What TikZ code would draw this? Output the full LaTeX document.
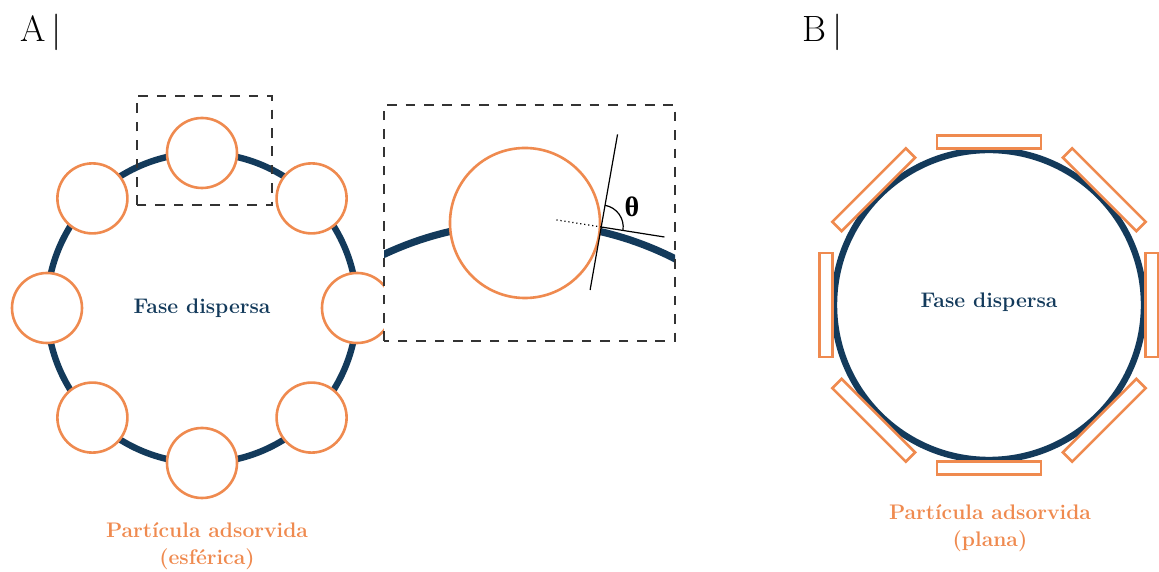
\documentclass[tikz,border=0pt]{standalone}
\usepackage{fontspec}
\usepackage{tikz}
\usetikzlibrary{calc}
\newfontfamily\griegafont{Liberation Serif}
\definecolor{faseAzul}{HTML}{133A5B}
\definecolor{partNaranja}{HTML}{EF8A4F}
\tikzset{
  anillo/.style={draw=faseAzul, line width=0.16cm},
  particula/.style={circle, draw=partNaranja, fill=white, line width=0.065cm, minimum size=1.75cm, inner sep=0pt},
  placa/.style={rectangle, draw=partNaranja, fill=white, line width=0.065cm, minimum width=2.6cm, minimum height=0.33cm, inner sep=0pt},
  recuadro/.style={draw=black!80, line width=0.035cm, dash pattern=on 0.24cm off 0.22cm},
  etiqueta/.style={font=\fontsize{15}{19}\selectfont\bfseries, align=center},
  panel/.style={font=\fontsize{26}{30}\selectfont, anchor=base west, inner sep=0pt},
  fina/.style={draw=black, line width=0.03cm},
}

\begin{document}
\begin{tikzpicture}[x=0.025cm, y=0.025cm]
\useasboundingbox (0,0) rectangle (1159,572);

% panel A
\node[panel] (letA) at (20,530) {A\,|};
\coordinate (cA) at (202,264);
\draw[anillo] (cA) circle[radius=155];
\node[etiqueta, text=faseAzul] (faseA) at (cA) {Fase dispersa};
\foreach \a [count=\i] in {0,45,...,315}
  \node[particula] (p\i) at ($(cA)+(\a:155)$) {};
\draw[recuadro] (137,367) rectangle (272,476);

% ampliacion
\fill[white] (384,231) rectangle (675,467);
\begin{scope}
  \clip (384,231) rectangle (675,467);
  \draw[anillo, line width=0.18cm] (525,17) circle[radius=332];
\end{scope}
\node[particula, minimum size=3.75cm] (pz) at (525,349) {};
\draw[recuadro] (384,231) rectangle (675,467);
\coordinate (contato) at (pz.-3);
\coordinate (tgSup) at ($(contato)+(80:94)$);
\coordinate (tgInf) at ($(contato)+(260:64)$);
\draw[fina] (tgSup) -- (tgInf);
\draw[fina] (contato) -- ++(-9:64);
\draw[fina, dotted] (contato) -- ++(171:48);
\draw[fina] (contato) ++(-9:22) arc[start angle=-9, end angle=80, radius=22];
\node[font=\fontsize{20}{24}\selectfont\griegafont\bfseries] (theta) at (632,365) {θ};

\node[etiqueta, text=partNaranja] (partA) at (207,26) {Partícula adsorvida\\(esférica)};

% panel B
\node[panel] (letB) at (802,530) {B\,|};
\coordinate (cB) at (989,267);
\draw[anillo] (cB) circle[radius=155];
\node[etiqueta, text=faseAzul] (faseB) at (989,270) {Fase dispersa};
\foreach \a [count=\i] in {0,45,...,315}
  \node[placa, rotate=\a+90] (r\i) at ($(cB)+(\a:163)$) {};

\node[etiqueta, text=partNaranja] (partB) at (990,44) {Partícula adsorvida\\(plana)};
\end{tikzpicture}
\end{document}
